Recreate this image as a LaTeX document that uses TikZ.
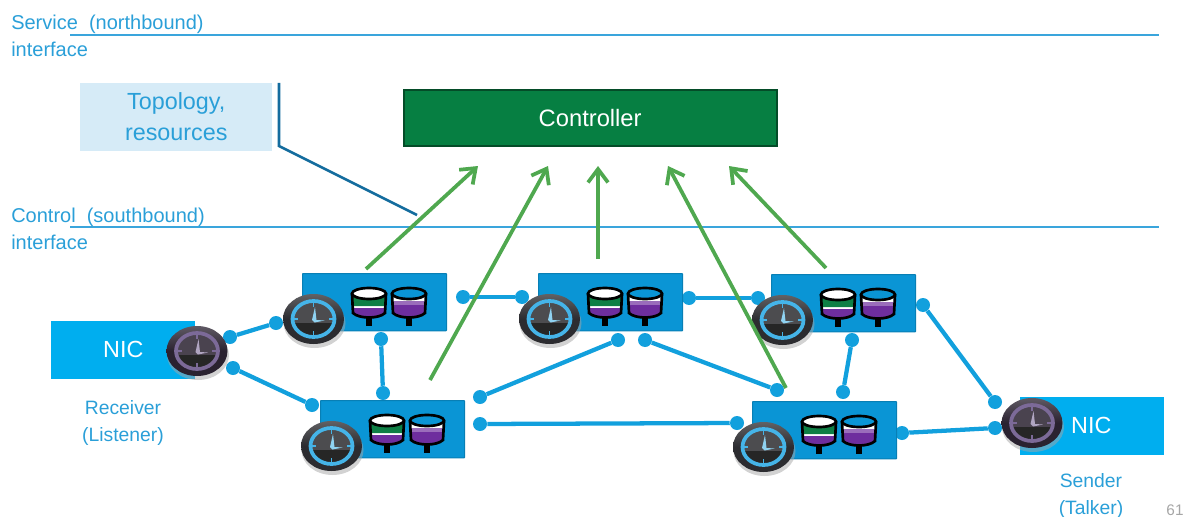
\documentclass[tikz,border=0pt]{standalone}
\usepackage{fontspec}
\setmainfont{Liberation Sans}
\usetikzlibrary{arrows.meta}
\definecolor{labelblue}{HTML}{2A9FD8}
\definecolor{ruleblue}{HTML}{3AA5DC}
\definecolor{linkblue}{HTML}{12A0DD}
\definecolor{switchblue}{HTML}{0A95D5}
\definecolor{nicblue}{HTML}{00AEEF}
\definecolor{notefill}{HTML}{D6EBF7}
\definecolor{notedark}{HTML}{146C9E}
\definecolor{ctlgreen}{HTML}{067F42}
\definecolor{arrowgreen}{HTML}{4FA84F}
\definecolor{queuegreen}{HTML}{0E7F45}
\definecolor{queuepurple}{HTML}{6E2E9E}
\definecolor{clkgray}{HTML}{2C2C30}
\definecolor{clkplum}{HTML}{2A2230}
\definecolor{ringblue}{HTML}{45B4E8}
\definecolor{ringplum}{HTML}{7C6A98}
\tikzset{
	switchbox/.style={draw=switchblue!85!black,fill=switchblue,line width=0.8pt,rounded corners=0.5pt,anchor=north west,minimum width=108pt,minimum height=43pt,inner sep=0pt},
	nicbox/.style={fill=nicblue,anchor=north west,minimum width=108pt,minimum height=43pt,inner sep=0pt,text=white,font=\fontsize{17.5}{20}\selectfont},
	dot/.style={circle,fill=linkblue,inner sep=0pt,minimum size=10.5pt},
	link/.style={linkblue,line width=3.2pt},
	uplink/.style={arrowgreen,line width=2.8pt,-{Straight Barb[length=10pt,width=15pt,line width=2.8pt]}},
	rulerline/.style={ruleblue,line width=0.9pt},
	sidelabel/.style={text=labelblue,anchor=west,inner sep=0pt,align=left,font=\fontsize{15}{20.25}\selectfont},
	caption/.style={text=labelblue,inner sep=0pt,align=center,font=\fontsize{14.5}{20}\selectfont},
	pics/clockface/.style 2 args={code={
		\fill[black!35,opacity=0.5] (1,4) ellipse [x radius=31, y radius=25];
		\shade[top color=#1!75!white,bottom color=#1,middle color=#1] (0,0) ellipse [x radius=30.5, y radius=25];
		\fill[#1!85!white] (0,0) ellipse [x radius=21, y radius=18];
		\begin{scope}
			\clip (-25,4) rectangle (25,25);
			\fill[black!85] (0,0) ellipse [x radius=21, y radius=18];
		\end{scope}
		\draw[#2,line width=2.8pt] (0,0) ellipse [x radius=21, y radius=18];
		\foreach \tx/\ty in {0/-18,0/18,-21/0,21/0}{
			\draw[#2,line width=1.4pt] (\tx,\ty) -- (0.72*\tx,0.68*\ty);
		}
		\fill[#2!60!white] (-1.5,1) -- (1.5,-12) -- (3,1) -- (11,1.5) -- (1,3.5) -- cycle;
	}},
	greenqueue/.pic={
		\fill[black] (-3,27) rectangle (3,38);
		\fill[white] (-17,6) -- (-16,25) .. controls (-10,31) and (10,31) .. (16,25) -- (17,6) .. controls (10,-1) and (-10,-1) .. cycle;
		\begin{scope}
			\clip (-17,6) -- (-16,25) .. controls (-10,31) and (10,31) .. (16,25) -- (17,6) -- cycle;
			\fill[queuegreen] (-17.5,8) .. controls (-10,12) and (10,12) .. (17.5,8) -- (17.5,18) -- (-17.5,18) -- cycle;
			\fill[queuepurple] (-17.5,20) rectangle (17.5,31);
		\end{scope}
		\draw[black,line width=2pt] (-17,6) -- (-16,25) .. controls (-10,31) and (10,31) .. (16,25) -- (17,6);
		\draw[black,line width=2pt] (0,5.5) ellipse [x radius=17, y radius=5.5];
	},
	purplequeue/.pic={
		\fill[black] (-3,27) rectangle (3,38);
		\fill[white] (-17,6) -- (-16,25) .. controls (-10,31) and (10,31) .. (16,25) -- (17,6) .. controls (10,-1) and (-10,-1) .. cycle;
		\begin{scope}
			\clip (-17,6) -- (-16,25) .. controls (-10,31) and (10,31) .. (16,25) -- (17,6) -- cycle;
			\fill[queuepurple!70!white] (-17.5,13) rectangle (17.5,17);
			\fill[queuepurple] (-17.5,17) rectangle (17.5,31);
		\end{scope}
		\draw[black,line width=2pt] (-17,6) -- (-16,25) .. controls (-10,31) and (10,31) .. (16,25) -- (17,6);
		\draw[black,fill=switchblue,line width=2pt] (0,5.5) ellipse [x radius=17, y radius=5.5];
	}
}
\begin{document}
\begin{tikzpicture}[x=0.75pt,y=-0.75pt]
	\useasboundingbox (0,0) rectangle (1184,517);
	%interface lines
	\coordinate (northL) at (70,35);
	\coordinate (northR) at (1159,35);
	\coordinate (southL) at (70,227);
	\coordinate (southR) at (1159,227);
	\draw[rulerline] (northL) -- (northR);
	\draw[rulerline] (southL) -- (southR);
	\node[sidelabel] (northlabel) at (11,35.5) {Service\ \ (northbound)\\interface};
	\node[sidelabel] (southlabel) at (11,229) {Control\ \ (southbound)\\interface};
	%topology note
	\node[fill=notefill,anchor=north west,minimum width=144pt,minimum height=50.5pt,inner sep=0pt,text=labelblue,align=center,font=\fontsize{17.5}{23}\selectfont] (topology) at (80,83) {Topology,\\resources};
	\coordinate (braceT) at (279,83);
	\coordinate (braceM) at (279,146);
	\coordinate (braceE) at (417,215);
	\draw[notedark,line width=1.9pt] (braceT) -- (braceM) -- (braceE);
	%controller
	\node[draw=ctlgreen!60!black,fill=ctlgreen,line width=1.5pt,anchor=north west,minimum width=280pt,minimum height=42.5pt,inner sep=0pt,text=white,font=\fontsize{17.8}{20}\selectfont] (controller) at (402.5,88.5) {Controller};
	%links
	\foreach \n/\x/\y in {a/230/337,b/276/323,c/233/368,d/312/405,e/381/339,f/383/393,g/463/297,h/522/297,i/480/397,j/618/340,k/645/340,l/777/390,m/480/424,n/737/423,o/689/298,p/758/298,q/852/340,r/843/392,s/923/305,t/995/402,u/902/433,v/995/428}{
		\node[dot] (\n) at (\x,\y) {};
	}
	\foreach \p/\q in {a/b,c/d,e/f,g/h,i/j,k/l,m/n,o/p,q/r,s/t,u/v}{
		\draw[link] (\p) -- (\q);
	}
	%switches
	\foreach \sw/\x/\y in {swa/302/273,swb/538/273,swc/771/274,swd/320/400,swe/752/401}{
		\node[switchbox] (\sw) at (\x,\y) {};
		\pic at (\x+67,\y+15) {greenqueue};
		\pic at (\x+107,\y+15) {purplequeue};
		\pic at (\x+11.5,\y+46) {clockface={clkgray}{ringblue}};
	}
	%arrows to controller
	\foreach \n/\x/\y/\hx in {one/366/269/478,two/430/380/548,three/598/259/598,four/786/388/668,five/826/268/729}{
		\coordinate (from\n) at (\x,\y);
		\coordinate (to\n) at (\hx,166);
		\draw[uplink] (from\n) -- (to\n);
	}
	%nics
	\node[nicbox] (nicleft) at (51,321) {NIC};
	\pic at (197,351) {clockface={clkplum}{ringplum}};
	\node[nicbox] (nicright) at (1020,397) {\hspace*{-1.5pt}NIC};
	\pic at (1032,423) {clockface={clkplum}{ringplum}};
	\node[caption] (receiver) at (123,423) {Receiver\\(Listener)};
	\node[caption] (sender) at (1091,496) {Sender\\(Talker)};
	\node[text=black!35,inner sep=0pt,font=\fontsize{11.5}{14}\selectfont] (pagenum) at (1175,510) {61};
\end{tikzpicture}
\end{document}
